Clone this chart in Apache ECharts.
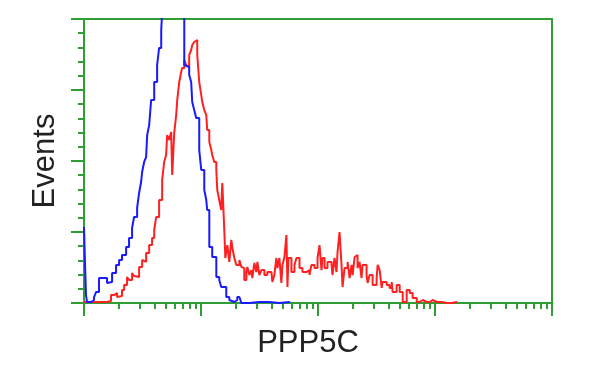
<!DOCTYPE html>
<html>
<head>
<meta charset="utf-8">
<script src="https://cdn.jsdelivr.net/npm/echarts@6/dist/echarts.min.js"></script>
<style>
html,body{margin:0;padding:0;background:#fff;}
#c{width:600px;height:375px;}
</style>
</head>
<body>
<div id="c"></div>
<script>
// x: log10 fluorescence intensity (decades 0..4); y: event counts
var blueLogFL = [0.000,0.009,0.017,0.026,0.060,0.069,0.086,0.103,0.128,0.154,0.171,0.197,0.214,0.240,0.274,0.300,0.325,0.360,0.385,0.411,0.428,0.454,0.471,0.488,0.497,0.514,0.531,0.540,0.557,0.574,0.600,0.625,0.642,0.660,0.668,0.685,0.728,0.771,0.814,0.839,0.857,0.874,0.899,0.916,0.925,0.942,0.959,0.985,1.002,1.028,1.045,1.053,1.071,1.096,1.131,1.156,1.173,1.216,1.242,1.259,1.285,1.310,1.328,1.345,1.413,1.499,1.585,1.670,1.756];
var blueEvents = [53.5,26.8,5.6,0.7,0.7,2.1,4.2,7.7,17.6,16.2,17.6,14.1,14.8,21.1,26.8,30.3,33.8,39.4,45.8,52.8,60.6,66.9,77.5,85.2,92.3,99.3,102.8,118.3,125.3,143.0,155.6,167.6,179.6,192.2,205,225,250,245,230,210,167.6,166.2,160.6,155.6,141.5,135.9,130.3,107.7,93.7,79.6,72.5,65.5,39.4,32.4,18.3,16.2,11.3,4.2,2.1,0.7,2.1,4.2,5.6,0,0.7,0.7,0,0.7,0];

var redLogFL = [0.000,0.128,0.197,0.231,0.257,0.283,0.300,0.325,0.343,0.368,0.385,0.411,0.428,0.445,0.471,0.497,0.514,0.531,0.557,0.582,0.600,0.617,0.642,0.668,0.685,0.702,0.711,0.728,0.745,0.754,0.771,0.788,0.797,0.814,0.831,0.839,0.857,0.874,0.882,0.899,0.916,0.925,0.942,0.959,0.968,0.985,1.002,1.011,1.028,1.045,1.053,1.071,1.088,1.096,1.113,1.131,1.139,1.156,1.173,1.182,1.199,1.208,1.225,1.242,1.259,1.268,1.285,1.302,1.328,1.345,1.353,1.370,1.388,1.396,1.413,1.430,1.439,1.456,1.473,1.482,1.499,1.516,1.542,1.567,1.602,1.610,1.627,1.644,1.653,1.670,1.687,1.696,1.713,1.730,1.739,1.747,1.773,1.799,1.816,1.842,1.867,1.901,1.927,1.944,1.970,1.996,2.013,2.030,2.038,2.056,2.081,2.116,2.124,2.141,2.158,2.167,2.184,2.201,2.210,2.227,2.253,2.270,2.287,2.296,2.313,2.330,2.338,2.355,2.372,2.381,2.415,2.424,2.441,2.467,2.501,2.510,2.527,2.544,2.552,2.587,2.612,2.630,2.638,2.672,2.698,2.724,2.758,2.784,2.809,2.844,2.869,2.895,2.929,2.955,2.981,3.015,3.058,3.101,3.143,3.186];
var redEvents = [0.7,0.7,1.4,5.6,7.0,4.2,4.9,9.2,12.7,18.3,16.2,21.1,19.0,18.3,25.4,30.3,28.9,35.2,40.8,45.8,51.4,60.6,72.5,86.6,99.3,104.2,118.3,114.8,120.4,90.1,119.7,132.4,143.0,155.6,162.7,165.5,171.1,167.6,166.2,174.6,178.2,181.7,183.8,185.2,174.6,155.6,146.5,141.5,135.9,132.4,121.8,113.4,107.7,104.2,99.3,93.7,79.6,72.5,65.5,84.5,51.4,31.7,40.8,28.9,44.4,38.7,31.7,26.8,30.3,25.4,24.6,16.2,21.8,25.4,19.7,23.2,17.6,28.2,21.8,28.9,19.7,23.2,19.7,21.8,21.1,14.8,19.7,31.7,24.6,31.7,14.1,26.8,32.4,47.9,11.3,31.7,21.8,26.8,31.7,24.6,21.8,23.2,19.7,26.8,24.6,31.7,40.8,23.2,31.7,24.6,28.9,26.8,19.7,31.7,21.8,35.9,50.0,26.8,11.3,24.6,28.9,17.6,26.8,19.7,32.4,33.8,24.6,28.9,17.6,26.8,19.7,14.1,19.7,12.7,17.6,26.8,23.2,10.6,14.8,12.7,10.6,14.8,7.7,12.7,7.7,0.7,9.2,7.0,3.5,0.7,2.1,0.7,0.7,2.1,0.7,0.7,0,0,0.7,0];

var majorDecades = [0, 1, 2, 3, 4];
var minorMultipliers = [2, 3, 4, 5, 6, 7, 8, 9];

var xTitle = 'PPP5C';
var yTitle = 'Events';

function zip(xs, ys) { return xs.map(function (x, i) { return [x, ys[i]]; }); }
var minorTicks = [];
majorDecades.slice(0, -1).forEach(function (d) {
  minorMultipliers.forEach(function (m) { minorTicks.push(d + Math.log10(m)); });
});

var green = '#2f9e33';
var chart = echarts.init(document.getElementById('c'), null, { renderer: 'canvas' });
chart.setOption({
  animation: false,
  backgroundColor: '#ffffff',
  grid: { left: 84, right: 48, top: 19, bottom: 72, show: true, borderColor: green, borderWidth: 2, backgroundColor: 'transparent' },
  xAxis: [{
    type: 'value', min: 0, max: 4, interval: 1,
    axisLine: { show: true, lineStyle: { color: green, width: 2 } },
    axisTick: { show: true, length: 13, customValues: majorDecades, lineStyle: { color: green, width: 2 } },
    axisLabel: { show: false },
    splitLine: { show: false },
    name: xTitle, nameLocation: 'middle', nameGap: 25,
    nameTextStyle: { fontFamily: 'Liberation Sans', fontSize: 31, color: '#222', padding: [0, 20, 0, 0] }
  }, {
    type: 'value', min: 0, max: 4, interval: 1, position: 'bottom',
    axisLine: { show: false },
    axisTick: { show: true, length: 6, customValues: minorTicks, lineStyle: { color: green, width: 2 } },
    axisLabel: { show: false },
    splitLine: { show: false }
  }],
  yAxis: {
    type: 'value', min: 0, max: 200, interval: 50,
    axisLine: { show: true, lineStyle: { color: green, width: 2 } },
    axisTick: { show: true, length: 13, lineStyle: { color: green, width: 2 } },
    minorTick: { show: true, splitNumber: 5, length: 6, lineStyle: { color: green, width: 2 } },
    axisLabel: { show: false },
    splitLine: { show: false },
    name: yTitle, nameLocation: 'middle', nameGap: 23, nameRotate: 90,
    nameTextStyle: { fontFamily: 'Liberation Sans', fontSize: 31, color: '#222' }
  },
  series: [{
    type: 'line', step: 'end', showSymbol: false, symbol: 'none', clip: true,
    data: zip(redLogFL, redEvents),
    lineStyle: { color: '#ff2020', width: 2 }
  }, {
    type: 'line', step: 'end', showSymbol: false, symbol: 'none', clip: true,
    data: zip(blueLogFL, blueEvents),
    lineStyle: { color: '#1a1aff', width: 2 }
  }]
});
</script>
</body>
</html>
